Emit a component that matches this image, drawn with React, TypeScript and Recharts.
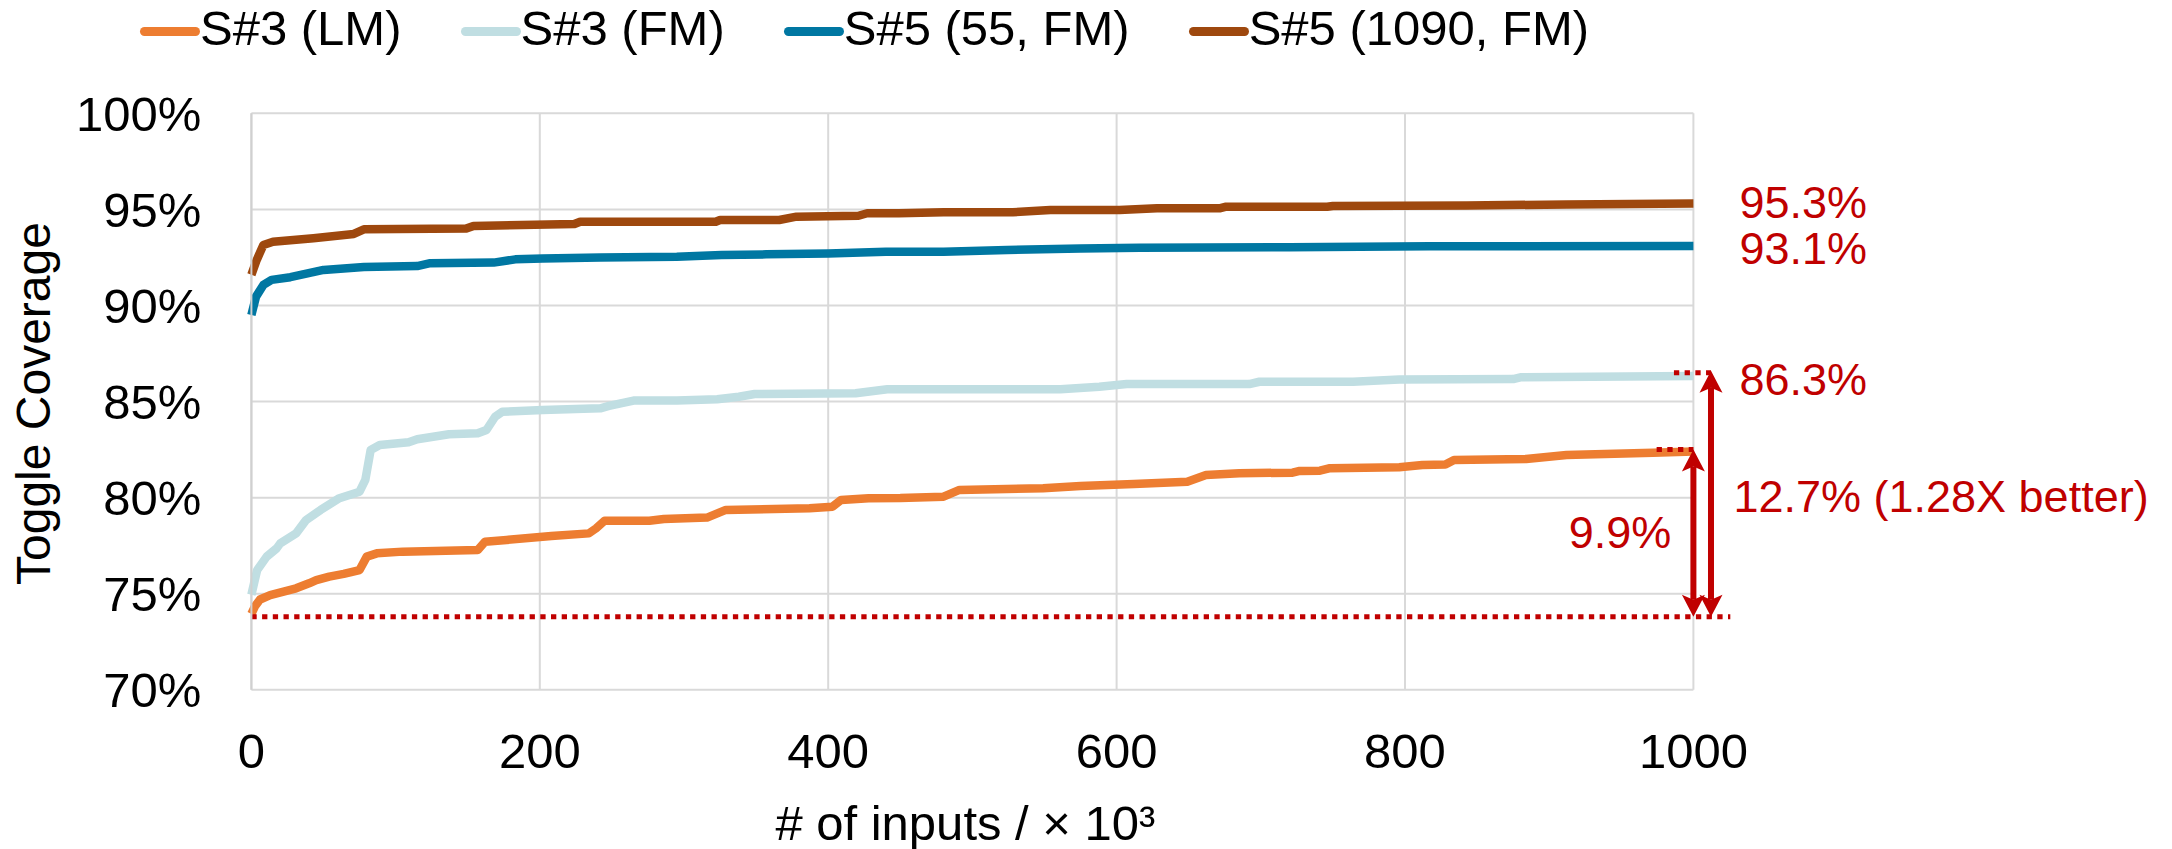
import {
  CartesianGrid,
  Line,
  LineChart,
  ReferenceDot,
  ReferenceLine,
  XAxis,
  YAxis,
} from "recharts";

// [inputs (x10^3), toggle coverage %]
const s3LM: [number, number][] = [
  [0, 73.95], [2.5, 74.35], [6, 74.7], [13, 74.93], [31, 75.28], [40, 75.54],
  [45, 75.71], [54, 75.89], [64, 76.03], [75, 76.23], [80, 76.93], [87, 77.1],
  [105, 77.19], [157, 77.27], [162, 77.71], [177, 77.8], [208, 78.0], [234, 78.14],
  [239, 78.4], [245, 78.8], [276, 78.8], [286, 78.89], [316, 78.96], [329, 79.36],
  [387, 79.45], [403, 79.53], [409, 79.88], [428, 79.97], [450, 79.98], [480, 80.05],
  [491, 80.4], [549, 80.49], [575, 80.6], [612, 80.71], [649, 80.83], [662, 81.18],
  [685, 81.27], [722, 81.3], [727, 81.39], [741, 81.4], [748, 81.53], [796, 81.58],
  [812, 81.7], [828, 81.72], [834, 81.96], [884, 82.01], [912, 82.22], [972, 82.34],
  [1000, 82.4],
];

const s3FM: [number, number][] = [
  [0, 74.95], [2, 75.6], [4, 76.23], [10.6, 76.93], [17.5, 77.36], [20, 77.62],
  [31, 78.14], [38, 78.84], [48, 79.36], [61, 79.97], [75, 80.31], [79, 80.92],
  [82.7, 82.48], [89, 82.74], [109, 82.88], [115, 83.04], [137, 83.3], [157, 83.35],
  [163, 83.52], [169, 84.21], [174, 84.47], [202, 84.56], [242, 84.65], [248, 84.77],
  [265, 85.05], [295, 85.05], [323, 85.12], [338, 85.25], [349, 85.39], [419, 85.43],
  [441, 85.64], [561, 85.64], [588, 85.77], [607, 85.91], [692, 85.91], [699, 86.03],
  [764, 86.03], [796, 86.15], [875, 86.17], [880, 86.26], [1000, 86.33],
];

const s5n55: [number, number][] = [
  [0, 89.5], [3.2, 90.46], [8.3, 91.07], [14, 91.33], [27, 91.47], [50, 91.85],
  [78, 92.0], [115, 92.05], [124, 92.2], [168, 92.23], [183, 92.4], [202, 92.45],
  [242, 92.5], [295, 92.54], [326, 92.63], [357, 92.66], [400, 92.7], [440, 92.8],
  [480, 92.8], [524, 92.89], [575, 92.97], [616, 93.0], [720, 93.03], [817, 93.08],
  [1000, 93.1],
];

const s5n1090: [number, number][] = [
  [0, 91.6], [3.7, 92.37], [8.3, 93.15], [15, 93.32], [43, 93.5], [71, 93.72],
  [78, 93.96], [149, 94.0], [154, 94.14], [224, 94.24], [228, 94.36], [322, 94.36],
  [325, 94.45], [366, 94.45], [378, 94.62], [421, 94.67], [427, 94.8], [449, 94.8],
  [480, 94.85], [528, 94.85], [554, 94.97], [602, 94.97], [628, 95.06], [672, 95.06],
  [676, 95.14], [746, 95.14], [750, 95.18], [843, 95.2], [912, 95.26], [1000, 95.3],
];

const seriesNames = ["S#3 (LM)", "S#3 (FM)", "S#5 (55, FM)", "S#5 (1090, FM)"];
const seriesColors = ["#ED7D31", "#C0DEE2", "#0077A2", "#9E480E"];
const seriesPoints = [s3LM, s3FM, s5n55, s5n1090];

const xTicks = [0, 200, 400, 600, 800, 1000];
const yTicks = [70, 75, 80, 85, 90, 95, 100];

// annotations: baseline, gaps and end labels
const baseline = 73.8;
const lmEnd = 82.5;
const fmEnd = 86.6;
const gapLabels = ["9.9%", "12.7% (1.28X better)"];
const endLabels = [
  { text: "95.3%", y: 95.4 },
  { text: "93.1%", y: 93.0 },
  { text: "86.3%", y: 86.17 },
];

const RED = "#C00000";
const FONT = '"Liberation Sans", Arial, sans-serif';
const LINE_W = 8.5;

const toRows = (points: [number, number][]) => points.map(([x, y]) => ({ x, y }));

function DoubleArrow(props: any) {
  const { x1, y1, y2 } = props;
  const top = Math.min(y1, y2);
  const bottom = Math.max(y1, y2);
  const head = 22;
  const half = 11.5;
  const notch = 5;
  return (
    <g>
      <line x1={x1} x2={x1} y1={top + head - notch} y2={bottom - head + notch} stroke={RED} strokeWidth={6} />
      <polygon
        points={`${x1},${top} ${x1 + half},${top + head} ${x1},${top + head - notch} ${x1 - half},${top + head}`}
        fill={RED}
      />
      <polygon
        points={`${x1},${bottom} ${x1 + half},${bottom - head} ${x1},${bottom - head + notch} ${x1 - half},${bottom - head}`}
        fill={RED}
      />
    </g>
  );
}

function YTitle({ viewBox }: any) {
  const x = viewBox.x + 33;
  const y = viewBox.y + viewBox.height / 2 + 2;
  return (
    <text x={x} y={y} dy="0.355em" transform={`rotate(-90, ${x}, ${y})`} textAnchor="middle" fontSize={48} fill="#000" fontFamily={FONT}>
      Toggle Coverage
    </text>
  );
}

function XTitle({ viewBox }: any) {
  return (
    <text x={viewBox.x + viewBox.width / 2 - 7} y={840} textAnchor="middle" fontSize={49} fill="#000" fontFamily={FONT}>
      # of inputs / × 10³
    </text>
  );
}

const dotted = { stroke: RED, strokeWidth: 5, strokeDasharray: "5.3 5.4", ifOverflow: "visible" as const };

export default function App() {
  return (
    <div style={{ position: "absolute", left: 0, top: 0, width: 2172, height: 849, background: "#fff", fontFamily: FONT }}>
      <style>{`.series-line path.recharts-curve { stroke-width: ${LINE_W}px; }`}</style>
      <div style={{ position: "absolute", left: 140, top: 4, height: 49, display: "flex", alignItems: "center", gap: 59 }}>
        {seriesNames.map((name, i) => (
          <div key={name} style={{ display: "flex", alignItems: "center" }}>
            <span style={{ display: "inline-block", width: 60, height: 9, borderRadius: 4.5, background: seriesColors[i], marginTop: 6 }} />
            <span style={{ fontSize: 49, lineHeight: "49px", color: "#000", whiteSpace: "nowrap" }}>{name}</span>
          </div>
        ))}
      </div>
      <LineChart
        width={2172}
        height={849}
        margin={{ top: 113.3, right: 478.6, bottom: 0, left: 0 }}
        style={{ position: "absolute", left: 0, top: 0 }}
      >
        <CartesianGrid stroke="#D9D9D9" strokeWidth={2} />
        <XAxis
          dataKey="x"
          type="number"
          domain={[0, 1000]}
          ticks={xTicks}
          height={159.2}
          axisLine={false}
          tickLine={false}
          tickSize={0}
          tickMargin={43}
          tick={{ fill: "#000", fontSize: 49, fontFamily: FONT }}
          label={<XTitle />}
        />
        <YAxis
          type="number"
          domain={[70, 100]}
          ticks={yTicks}
          width={251.4}
          axisLine={{ stroke: "#D0D0D0", strokeWidth: 2 }}
          tickLine={false}
          tickSize={0}
          tickMargin={50}
          tickFormatter={(v) => `${v}%`}
          tick={{ fill: "#000", fontSize: 49, fontFamily: FONT }}
          label={<YTitle />}
        />
        {seriesPoints.map((pts, i) => (
          <Line
            key={seriesNames[i]}
            className="series-line"
            data={toRows(pts)}
            dataKey="y"
            name={seriesNames[i]}
            type="linear"
            stroke={seriesColors[i]}
            strokeWidth={LINE_W}
            strokeLinejoin="round"
            dot={false}
            activeDot={false}
            isAnimationActive={false}
          />
        ))}
        <ReferenceLine segment={[{ x: 0, y: baseline }, { x: 1025.6, y: baseline }]} {...dotted} />
        <ReferenceLine segment={[{ x: 974.5, y: lmEnd }, { x: 1000, y: lmEnd }]} {...dotted} />
        <ReferenceLine segment={[{ x: 986.5, y: fmEnd - 0.1 }, { x: 1012.2, y: fmEnd - 0.1 }]} {...dotted} />
        <ReferenceLine
          segment={[{ x: 1000, y: lmEnd }, { x: 1000, y: baseline }]}
          ifOverflow="visible"
          shape={(p: any) => <DoubleArrow {...p} />}
        />
        <ReferenceLine
          segment={[{ x: 1012.2, y: fmEnd }, { x: 1012.2, y: baseline }]}
          ifOverflow="visible"
          shape={(p: any) => <DoubleArrow {...p} />}
        />
        {endLabels.map((l) => (
          <ReferenceDot
            key={l.text}
            x={1000}
            y={l.y}
            r={0}
            fill="none"
            stroke="none"
            ifOverflow="visible"
            label={{ value: l.text, position: "right", offset: 46, fill: RED, fontSize: 45, fontFamily: FONT }}
          />
        ))}
        <ReferenceDot
          x={1000}
          y={78.19}
          r={0}
          fill="none"
          stroke="none"
          ifOverflow="visible"
          label={{ value: gapLabels[0], position: "left", offset: 22, fill: RED, fontSize: 45, fontFamily: FONT }}
        />
        <ReferenceDot
          x={1000}
          y={80.08}
          r={0}
          fill="none"
          stroke="none"
          ifOverflow="visible"
          label={{ value: gapLabels[1], position: "right", offset: 40, fill: RED, fontSize: 45, fontFamily: FONT }}
        />
      </LineChart>
    </div>
  );
}
